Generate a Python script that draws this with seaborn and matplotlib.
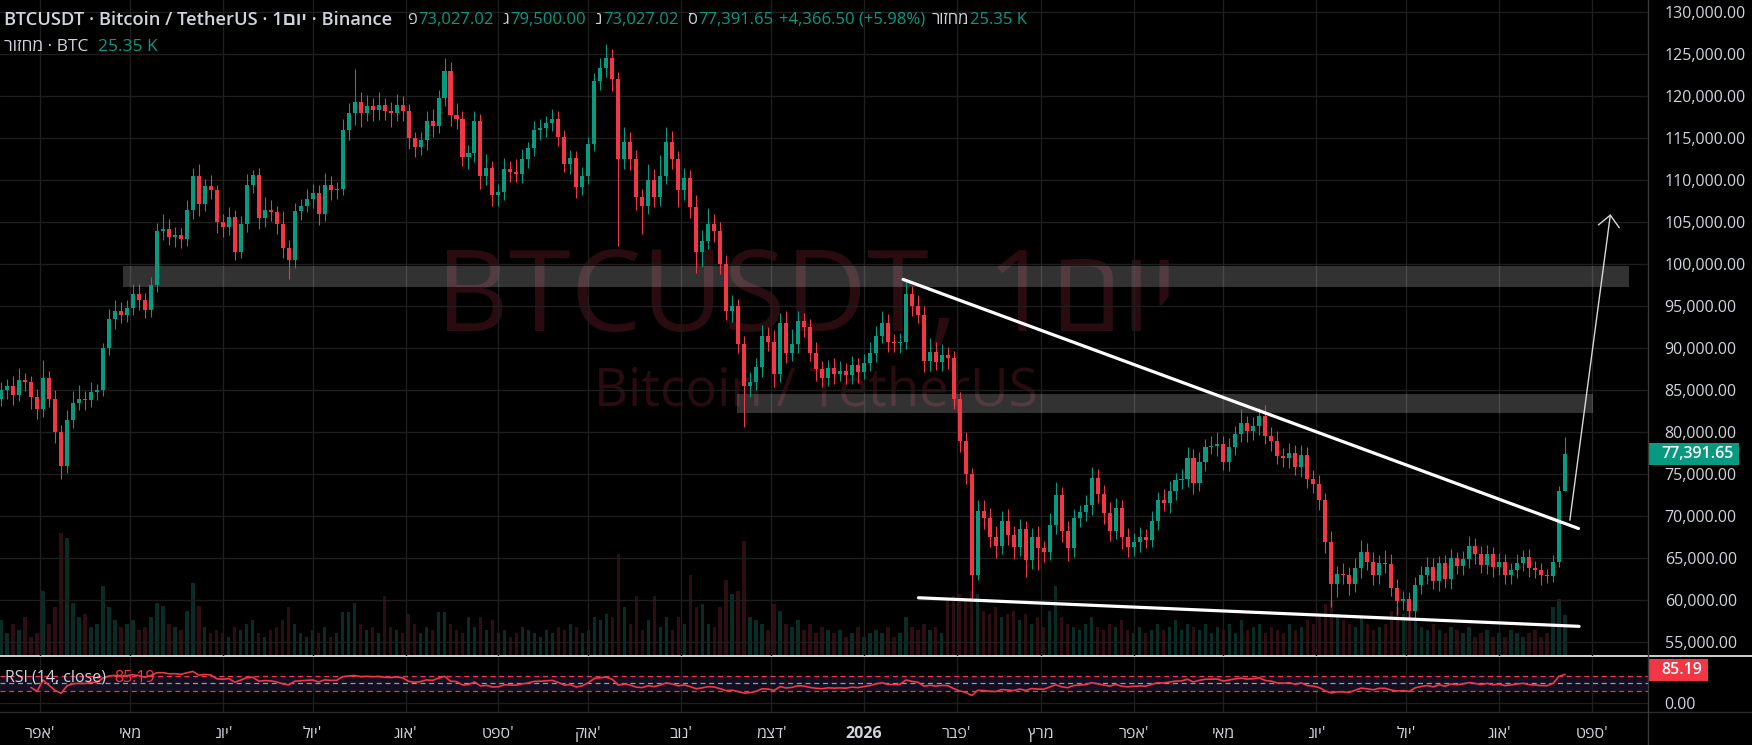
"""
BTCUSDT daily chart, TradingView-style dark theme (2-day candles).
"""
import numpy as np
import pandas as pd
import matplotlib
matplotlib.use("Agg")
import matplotlib.pyplot as plt
from matplotlib.lines import Line2D
from matplotlib.patches import Rectangle, FancyArrowPatch
from matplotlib.ticker import FuncFormatter
import seaborn as sns

UP = "#089981"
DOWN = "#F23645"
TXT = "#d1d4dc"
GRID = "#1e1e1e"
VOL_UP = "#0a2c27"
VOL_DN = "#2c0e13"

W, H = 1752, 745

# ---------------- data (prices in thousands USD) ----------------
start_date = "2025-03-19"
first_open_k = 84.0
close_k = [
    85.0, 85.5, 84.5, 86.2, 86.0, 84.2, 82.8, 86.5, 84.0, 80.0,
    76.0, 81.5, 83.5, 84.0, 83.8, 84.8, 85.0, 90.0, 93.5, 94.5,
    94.0, 94.8, 96.5, 95.8, 94.6, 97.5, 104.0, 104.2, 103.3, 103.5,
    103.0, 106.5, 110.5, 107.2, 109.3, 108.8, 105.0, 104.5, 105.6, 101.5,
    104.8, 109.5, 110.6, 105.5, 106.5, 106.2, 104.8, 102.0, 100.5, 106.3,
    107.0, 107.8, 108.5, 106.0, 109.5, 108.8, 109.0, 116.0, 118.0, 119.3,
    118.0, 118.8, 118.4, 119.0, 118.2, 118.0, 119.0, 118.2, 115.0, 114.0,
    114.8, 117.0, 116.5, 119.8, 123.0, 117.8, 117.3, 112.8, 113.2, 117.0,
    110.5, 111.5, 108.3, 108.6, 111.4, 111.0, 110.8, 112.5, 113.8, 116.0,
    116.2, 116.8, 117.3, 115.2, 112.0, 112.6, 109.2, 110.5, 114.3, 121.8,
    123.4, 124.6, 122.0, 112.5, 114.5, 112.5, 108.0, 107.0, 110.0, 108.0,
    110.5, 114.5, 112.5, 108.8, 110.3, 106.8, 101.5, 102.8, 104.8, 104.0,
    100.0, 94.4, 95.0, 90.5, 85.5, 86.0, 87.8, 91.5, 90.8, 87.0,
    93.0, 89.5, 90.5, 93.3, 92.5, 89.5, 87.5, 86.5, 87.7, 87.0,
    87.3, 86.8, 88.0, 87.2, 88.3, 89.5, 91.5, 93.0, 90.8, 90.6,
    90.8, 96.5, 95.0, 94.0, 88.5, 89.6, 88.4, 89.2, 88.8, 84.0,
    79.0, 75.0, 63.0, 70.6, 69.8, 67.5, 66.5, 69.5, 67.8, 66.3,
    68.5, 64.8, 67.5, 66.2, 65.8, 69.0, 72.5, 68.3, 66.2, 69.8,
    70.5, 71.3, 74.6, 72.6, 70.4, 68.3, 71.0, 67.5, 66.3, 67.0,
    67.5, 67.2, 69.5, 71.9, 71.6, 73.0, 74.3, 74.5, 77.0, 74.0,
    76.5, 78.3, 78.4, 78.6, 76.5, 78.2, 79.8, 81.1, 80.1, 80.8,
    82.0, 79.6, 79.0, 77.2, 77.0, 77.5, 75.9, 77.3, 74.5, 73.8,
    72.0, 67.0, 62.0, 63.1, 63.0, 62.0, 63.8, 65.8, 64.6, 63.0,
    64.4, 64.3, 61.5, 59.9, 60.2, 58.7, 61.8, 63.0, 64.0, 62.3,
    64.4, 62.5, 65.0, 64.1, 64.9, 66.5, 65.5, 64.2, 65.5, 64.0,
    64.6, 63.0, 63.6, 64.5, 65.1, 63.9, 63.6, 63.0, 62.9, 64.6,
    73.027, 77.39165,
]
wick_up_k = [
    1.0, 0.8, 1.2, 1.5, 0.9, 0.7, 1.0, 2.1, 0.8, 1.0,
    0.9, 1.2, 1.4, 1.6, 0.9, 1.2, 0.8, 0.6, 1.2, 1.3,
    1.0, 0.9, 1.1, 1.2, 0.8, 1.0, 0.9, 1.8, 1.2, 1.0,
    0.8, 1.1, 1.0, 1.4, 0.9, 1.3, 0.7, 1.0, 1.2, 0.9,
    1.0, 1.2, 0.6, 0.9, 1.5, 1.1, 0.8, 1.6, 0.9, 1.0,
    0.8, 1.2, 1.1, 0.9, 1.4, 1.0, 0.8, 1.3, 1.2, 4.0,
    1.2, 1.3, 1.0, 1.5, 0.8, 1.1, 1.3, 1.0, 0.9, 0.8,
    1.0, 1.3, 1.5, 0.9, 1.5, 1.1, 1.4, 0.9, 1.0, 1.2,
    0.9, 1.6, 0.8, 1.0, 1.3, 0.9, 1.5, 1.2, 0.8, 1.0,
    1.1, 0.9, 1.2, 1.0, 0.8, 1.0, 0.9, 1.1, 0.8, 1.0,
    1.2, 1.6, 1.0, 0.9, 1.8, 1.2, 1.1, 1.0, 1.9, 1.3,
    2.5, 1.9, 1.4, 1.0, 1.2, 0.9, 1.5, 1.3, 1.9, 1.2,
    1.0, 1.1, 1.4, 0.9, 1.0, 1.2, 1.1, 1.3, 1.0, 1.4,
    1.2, 1.5, 1.8, 1.2, 0.9, 1.0, 1.3, 1.0, 0.9, 1.1,
    1.2, 1.0, 1.1, 0.9, 1.0, 1.3, 1.2, 1.4, 1.1, 0.9,
    1.0, 1.5, 0.9, 1.3, 1.0, 1.6, 1.2, 1.3, 1.0, 0.9,
    0.8, 1.0, 0.7, 1.3, 1.4, 1.2, 1.3, 1.1, 1.4, 1.0,
    1.2, 1.0, 1.1, 1.3, 0.9, 1.4, 1.6, 1.0, 1.2, 1.1,
    0.9, 1.2, 1.3, 1.0, 1.1, 1.3, 1.2, 0.9, 1.1, 1.0,
    1.2, 1.0, 1.1, 1.0, 1.3, 1.2, 0.9, 1.1, 1.3, 1.0,
    1.1, 0.9, 1.2, 1.4, 1.0, 1.1, 1.0, 1.7, 0.9, 1.0,
    0.9, 1.2, 1.0, 1.1, 0.9, 1.2, 1.0, 1.2, 0.9, 1.0,
    1.1, 0.8, 1.2, 1.0, 1.3, 1.0, 1.2, 1.4, 1.0, 1.1,
    1.0, 1.6, 1.2, 1.0, 0.9, 0.8, 1.0, 1.1, 1.2, 1.0,
    0.9, 1.0, 1.1, 0.8, 1.0, 1.2, 0.9, 1.0, 1.1, 0.8,
    1.0, 0.9, 0.8, 1.0, 0.9, 1.0, 0.8, 0.9, 0.7, 0.8,
    0.6, 2.108,
]
wick_dn_k = [
    0.9, 1.0, 1.3, 0.8, 1.1, 1.4, 1.2, 1.0, 1.0, 1.3,
    1.5, 0.8, 1.0, 0.9, 1.1, 0.8, 1.0, 0.7, 0.8, 1.2,
    1.0, 0.9, 0.8, 1.2, 1.0, 0.9, 0.8, 1.1, 1.0, 1.2,
    1.0, 0.8, 1.1, 1.5, 0.9, 1.0, 1.3, 1.2, 1.0, 1.0,
    0.8, 0.9, 1.0, 1.3, 1.1, 1.0, 1.2, 1.3, 2.2, 0.9,
    1.0, 0.8, 1.1, 1.3, 0.9, 1.2, 1.0, 0.8, 1.2, 1.4,
    1.6, 1.0, 1.4, 1.2, 1.0, 1.7, 0.9, 1.1, 1.3, 1.2,
    1.0, 1.2, 1.4, 0.9, 1.0, 1.3, 1.2, 1.1, 1.4, 1.0,
    1.5, 1.1, 1.3, 1.4, 1.0, 1.2, 1.0, 1.1, 1.0, 0.9,
    1.2, 1.0, 0.9, 1.1, 1.0, 1.2, 1.3, 1.0, 0.9, 0.8,
    1.0, 1.1, 1.4, 10.3, 1.2, 1.3, 1.5, 3.4, 1.0, 1.2,
    1.0, 0.9, 1.2, 2.0, 1.1, 1.3, 2.5, 1.8, 1.0, 1.4,
    1.2, 1.0, 1.3, 1.1, 4.9, 1.3, 1.0, 1.2, 1.1, 1.6,
    1.0, 1.3, 1.0, 1.1, 1.2, 1.0, 1.4, 1.1, 1.0, 1.2,
    0.9, 1.1, 1.0, 1.3, 0.9, 1.0, 1.1, 0.9, 1.2, 1.0,
    1.1, 0.9, 1.2, 1.0, 1.3, 1.2, 1.0, 1.1, 1.3, 1.2,
    1.4, 1.2, 2.8, 0.6, 1.3, 1.1, 1.5, 1.0, 1.2, 1.4,
    1.0, 2.0, 1.1, 2.6, 1.2, 1.0, 1.1, 1.3, 1.5, 1.0,
    1.1, 1.0, 1.2, 1.0, 1.3, 1.2, 1.0, 1.4, 1.1, 1.0,
    1.2, 1.0, 0.9, 1.1, 1.0, 1.2, 1.0, 1.1, 1.0, 1.3,
    1.0, 1.1, 0.9, 1.2, 1.0, 1.1, 0.9, 1.0, 1.2, 1.0,
    1.1, 1.0, 1.2, 1.0, 1.1, 1.3, 1.0, 1.2, 1.1, 1.0,
    1.2, 1.4, 2.8, 1.6, 1.0, 1.4, 1.0, 1.1, 1.0, 1.2,
    1.0, 1.1, 1.0, 1.6, 1.0, 0.9, 0.8, 1.0, 1.1, 1.0,
    1.2, 1.0, 1.1, 1.0, 1.1, 1.0, 1.2, 1.0, 1.1, 1.2,
    1.0, 1.1, 1.0, 0.9, 1.0, 1.1, 1.0, 1.2, 0.8, 0.7,
    0.6, 0.0,
]
volume_k = [
    22, 14, 20, 16, 24, 12, 14, 40, 20, 30,
    76, 73, 33, 24, 26, 18, 20, 43, 30, 22,
    18, 20, 22, 16, 18, 24, 33, 31, 20, 18,
    16, 28, 45, 31, 18, 14, 16, 14, 12, 18,
    16, 20, 22, 14, 12, 16, 18, 22, 30, 20,
    14, 12, 16, 14, 18, 12, 14, 27, 27, 33,
    20, 16, 18, 14, 37, 18, 16, 14, 26, 20,
    14, 18, 16, 27, 27, 20, 16, 14, 24, 18,
    24, 16, 22, 14, 16, 12, 14, 18, 16, 14,
    12, 16, 14, 18, 16, 20, 18, 14, 16, 24,
    22, 26, 24, 63, 30, 20, 37, 16, 22, 37,
    18, 24, 16, 24, 20, 50, 30, 32, 20, 18,
    30, 47, 38, 40, 71, 24, 22, 20, 16, 32,
    28, 20, 18, 22, 16, 20, 14, 18, 16, 14,
    16, 12, 14, 18, 12, 14, 16, 14, 18, 12,
    14, 24, 18, 16, 20, 16, 18, 14, 35, 37,
    38, 36, 40, 38, 28, 26, 30, 24, 26, 28,
    22, 26, 20, 24, 18, 28, 43, 24, 20, 18,
    16, 20, 24, 18, 16, 20, 18, 22, 16, 14,
    18, 14, 16, 20, 16, 18, 22, 16, 20, 18,
    16, 20, 14, 18, 16, 20, 14, 22, 16, 18,
    20, 14, 18, 16, 14, 20, 16, 18, 22, 20,
    24, 32, 34, 26, 22, 20, 18, 24, 20, 16,
    18, 20, 28, 30, 26, 28, 22, 18, 16, 20,
    16, 14, 18, 16, 14, 18, 12, 14, 16, 12,
    14, 12, 16, 14, 12, 14, 16, 12, 14, 30,
    35, 25.35,
]

# month tick labels (logical Hebrew, reversed for drawing below)
month_labels = ["אפר'", "מאי", "יונ'", "יול'", "אוג'", "ספט'", "אוק'", "נוב'",
                "דצמ'", "2026", "פבר'", "מרץ", "אפר'", "מאי", "יונ'", "יול'",
                "אוג'", "ספט'"]

# drawings: (date, price)
zone_top = ("2025-04-28 17:00", "2026-09-13 10:00", 97300, 99850)
zone_mid = ("2025-11-19 14:00", "2026-09-01 10:00", 82300, 84600)
upper_line = [("2026-01-14 02:00", 98200), ("2026-08-27 12:00", 68550)]
lower_line = [("2026-01-19 05:00", 60300), ("2026-08-27 17:00", 56900)]
arrow_pts = [("2026-08-24 12:00", 69200), ("2026-09-07 07:00", 106300)]

last_price = 77391.65
last_rsi = 85.19


def vis(s):
    """Hebrew drawn left to right: reverse the letters, keep the geresh right."""
    if s.isdigit():
        return s
    if s.endswith("'"):
        return s[:-1][::-1] + "'"
    return s[::-1]


# ---------------- derived series ----------------
dates = pd.date_range(start_date, periods=len(close_k), freq="2D")
close = np.array(close_k) * 1000
opens = np.concatenate([[first_open_k * 1000], close[:-1]])
high = np.maximum(opens, close) + np.array(wick_up_k) * 1000
low = np.minimum(opens, close) - np.array(wick_dn_k) * 1000
is_up = close >= opens

delta = pd.Series(close).diff()
gain = delta.clip(lower=0)
loss = -delta.clip(upper=0)
avg_g = gain.ewm(alpha=1 / 14, adjust=True, min_periods=5).mean()
avg_l = loss.ewm(alpha=1 / 14, adjust=True, min_periods=5).mean()
rsi = 100 - 100 / (1 + avg_g / avg_l)

# ---------------- style ----------------
sns.set_theme(style="dark")
plt.rcParams["font.family"] = ["Open Sans", "Liberation Sans", "DejaVu Sans"]
plt.rcParams["axes.unicode_minus"] = False

fig = plt.figure(figsize=(W / 100, H / 100), dpi=100, facecolor="black")
x_split = 1648 / W
ax = fig.add_axes([0, 1 - 656 / H, x_split, 656 / H])
ax_rsi = fig.add_axes([0, 1 - 711.7 / H, x_split, 55.7 / H], sharex=ax)
axv = ax.twinx()
ax.set_zorder(2)
ax.patch.set_visible(False)
axv.set_zorder(1)
axv.set_facecolor("black")
ax_rsi.set_facecolor("black")

# volume
axv.bar(dates, volume_k, width=1.1,
        color=[VOL_UP if u else VOL_DN for u in is_up], linewidth=0)
axv.set_ylim(0, 405)
axv.axis("off")

# watermark
ax.text(0.4897, 0.4954, "BTCUSDT, 1" + vis("יום"), transform=ax.transAxes,
        ha="center", va="baseline", fontsize=81, color="#2a0b10", zorder=0)
ax.text(0.4948, 0.3803, "Bitcoin / TetherUS", transform=ax.transAxes,
        ha="center", va="baseline", fontsize=38, color="#2a0b10", zorder=0)

# zones
for d0, d1, p0, p1 in (zone_top, zone_mid):
    ax.fill_between([pd.Timestamp(d0), pd.Timestamp(d1)], p0, p1,
                    color="white", alpha=0.2, linewidth=0, zorder=1)

# candles
cols = np.where(is_up, UP, DOWN)
ax.vlines(dates, low, high, colors=cols, linewidth=0.8, zorder=3)
body = np.maximum(np.abs(close - opens), 80)
ax.bar(dates, body, bottom=np.minimum(opens, close), width=1.35,
       color=cols, linewidth=0, zorder=3)

# trend lines and arrow
for pts in (upper_line, lower_line):
    ax.plot([pd.Timestamp(p[0]) for p in pts], [p[1] for p in pts],
            color="white", linewidth=2.3, solid_capstyle="round", zorder=4)
arrow = FancyArrowPatch((pd.Timestamp(arrow_pts[0][0]), arrow_pts[0][1]),
                        (pd.Timestamp(arrow_pts[1][0]), arrow_pts[1][1]),
                        arrowstyle="->,head_length=0.45,head_width=0.42",
                        mutation_scale=18, color="#d8d8d8", linewidth=1.0,
                        zorder=4)
ax.add_patch(arrow)

# axes limits / ticks
ax.set_xlim(pd.Timestamp("2025-03-18 15:00"), pd.Timestamp("2026-09-19 17:00"))
ax.set_ylim(53370, 131464)
ax.yaxis.tick_right()
ax.set_yticks(np.arange(55000, 130001, 5000))
ax.yaxis.set_major_formatter(FuncFormatter(lambda v, p: f"{v:,.2f}"))
ax.tick_params(axis="y", length=0, pad=12, colors=TXT, labelsize=11.5)
ax.tick_params(axis="x", length=0, labelbottom=False)
months = pd.date_range("2025-04-01", "2026-09-01", freq="MS")
ax.set_xticks(months)
ax.grid(True, color=GRID, linewidth=1)
ax.set_axisbelow(True)
for s in ax.spines.values():
    s.set_visible(False)

# RSI pane
ax_rsi.axhspan(30, 70, color="#130f20", linewidth=0, zorder=0)
ax_rsi.axhline(70, color=DOWN, linewidth=0.9, linestyle=(0, (4, 3)), zorder=1)
ax_rsi.axhline(30, color=DOWN, linewidth=0.9, linestyle=(0, (4, 3)), zorder=1)
ax_rsi.axhline(50, color="#9a9aa2", linewidth=0.9, linestyle=(0, (4, 3)), zorder=1)
sns.lineplot(x=dates, y=rsi.values, ax=ax_rsi, color=DOWN, linewidth=1.2,
             zorder=3)
ax_rsi.set_ylim(-22.3, 120.5)
ax_rsi.set_yticks([0])
ax_rsi.yaxis.tick_right()
ax_rsi.yaxis.set_major_formatter(FuncFormatter(lambda v, p: f"{v:.2f}"))
ax_rsi.tick_params(axis="y", length=0, pad=12, colors=TXT, labelsize=11.5)
ax_rsi.set_xticks(months)
ax_rsi.set_xticklabels([vis(m) for m in month_labels])
ax_rsi.tick_params(axis="x", length=0, pad=10, colors=TXT, labelsize=11.5)
ax_rsi.get_xticklabels()[9].set_fontweight("bold")
ax_rsi.grid(True, color=GRID, linewidth=1)
ax_rsi.set_axisbelow(True)
ax_rsi.set_xlabel("")
ax_rsi.set_ylabel("")
for s in ax_rsi.spines.values():
    s.set_visible(False)

# frame lines
fig.add_artist(Line2D([0, 1], [1 - 656 / H] * 2, color="#e0e0e0",
                      linewidth=1.3, transform=fig.transFigure))
fig.add_artist(Line2D([0, 1], [1 - 711.7 / H] * 2, color="#2c2c2c",
                      linewidth=1, transform=fig.transFigure))
fig.add_artist(Line2D([x_split] * 2, [0, 1], color="#3a3a3a",
                      linewidth=1, transform=fig.transFigure))

renderer = fig.canvas.get_renderer()


def badge(y_disp, text, color, width):
    h = 22
    fig.add_artist(Rectangle((1648 / W, (y_disp - h / 2) / H), width / W, h / H,
                             transform=fig.transFigure, facecolor=color,
                             edgecolor="none"))
    fig.text(1661 / W, y_disp / H, text, color="white", fontsize=11.5,
             fontweight="semibold", ha="left", va="center")


xnum = ax.get_xlim()[0]
badge(ax.transData.transform((xnum, last_price))[1], f"{last_price:,.2f}", UP, 91)
badge(ax_rsi.transData.transform((xnum, last_rsi))[1], f"{last_rsi:.2f}", DOWN, 60)


def text_run(x_px, y_px, pieces, size, weight="normal"):
    x = x_px
    for s, c, gap in pieces:
        t = fig.text(x / W, 1 - y_px / H, s, color=c, fontsize=size,
                     fontweight=weight, ha="left", va="center")
        x += t.get_window_extent(renderer=renderer).width + gap
    return x


x_end = text_run(4, 20, [
    ("BTCUSDT · Bitcoin / TetherUS · 1" + vis("יום") + " · Binance", TXT, 0),
], 13.2, "semibold")
text_run(x_end + 15, 20, [
    ("פ", TXT, 1), ("73,027.02", UP, 9),
    ("ג", TXT, 1), ("79,500.00", UP, 9),
    ("נ", TXT, 1), ("73,027.02", UP, 9),
    ("ס", TXT, 1), ("77,391.65", UP, 6),
    ("+4,366.50 (+5.98%)", UP, 6),
    (vis("מחזור"), TXT, 1), ("25.35 K", UP, 0),
], 12)
text_run(4, 47, [(vis("מחזור") + " · BTC", TXT, 10), ("25.35 K", UP, 0)], 12.5)
text_run(5, 678, [("RSI (14, close)", TXT, 8), (f"{last_rsi:.2f}", DOWN, 0)], 11.5)

fig.savefig("out.png", dpi=100, facecolor="black")
